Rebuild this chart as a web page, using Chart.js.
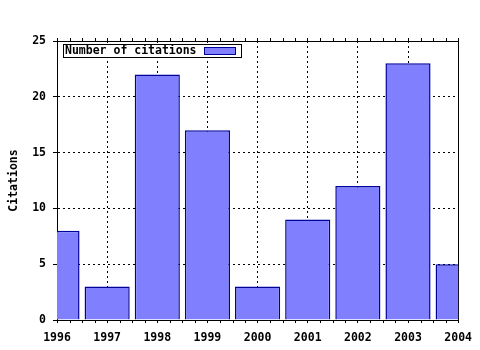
<!DOCTYPE html>
<html>
<head>
<meta charset="utf-8">
<script src="https://cdn.jsdelivr.net/npm/chart.js@4/dist/chart.umd.min.js"></script>
<style>
  html, body { margin: 0; padding: 0; background: #fff; }
  #wrap { width: 480px; height: 350px; }
</style>
</head>
<body>
<div id="wrap"><canvas id="c" width="480" height="350"></canvas></div>
<script>
const years = [1996, 1997, 1998, 1999, 2000, 2001, 2002, 2003, 2004];
const citations = [8, 3, 22, 17, 3, 9, 12, 23, 5];
const seriesLabel = 'Number of citations';
const yAxisTitle = 'Citations';
const yTicks = [0, 5, 10, 15, 20, 25];
const minorSteps = 4;

const FONT = { family: '"DejaVu Sans Mono", monospace', size: 11.5, weight: 'bold' };

function yearTicks(scale) { scale.ticks = years.map(v => ({ value: v })); }

const minorTicks = {
  id: 'minorTicks',
  afterDraw(chart) {
    const ctx = chart.ctx;
    const xs = chart.scales.x;
    const area = chart.chartArea;
    ctx.save();
    ctx.strokeStyle = '#000';
    ctx.lineWidth = 1;
    ctx.beginPath();
    for (let i = 0; i < years.length - 1; i++) {
      for (let k = 1; k < minorSteps; k++) {
        const v = years[i] + k / minorSteps;
        const px = Math.round(xs.getPixelForValue(v)) + 0.5;
        ctx.moveTo(px, area.bottom); ctx.lineTo(px, area.bottom + 3);
        ctx.moveTo(px, area.top); ctx.lineTo(px, area.top - 3);
      }
    }
    ctx.stroke();
    ctx.restore();
  }
};

const gnuLegend = {
  id: 'gnuLegend',
  afterDraw(chart) {
    const ctx = chart.ctx;
    const ds = chart.data.datasets[0];
    const area = chart.chartArea;
    const x0 = area.left + 6.5, y0 = area.top + 3.5, w = 178, h = 13;
    ctx.save();
    ctx.fillStyle = '#fff';
    ctx.fillRect(x0, y0, w, h);
    ctx.strokeStyle = '#000';
    ctx.lineWidth = 1;
    ctx.strokeRect(x0, y0, w, h);
    ctx.font = 'bold 11.5px "DejaVu Sans Mono", monospace';
    ctx.fillStyle = '#000';
    ctx.textBaseline = 'middle';
    ctx.textAlign = 'left';
    ctx.fillText(ds.label, x0 + 1.5, y0 + h / 2 + 0.5);
    ctx.fillStyle = ds.backgroundColor;
    ctx.fillRect(x0 + 141, y0 + 3, 31, 7);
    ctx.strokeStyle = ds.borderColor;
    ctx.strokeRect(x0 + 141, y0 + 3, 31, 7);
    ctx.restore();
  }
};

new Chart(document.getElementById('c'), {
  type: 'bar',
  data: {
    datasets: [{
      label: seriesLabel,
      data: years.map((y, i) => ({ x: y, y: citations[i] })),
      backgroundColor: '#8080ff',
      borderColor: '#00009a',
      borderWidth: 1.5,
      borderSkipped: 'start',
      categoryPercentage: 1.0,
      barPercentage: 0.9
    }]
  },
  options: {
    responsive: false,
    animation: false,
    events: [],
    layout: { padding: { left: 0, right: 0, top: 0, bottom: 0 } },
    plugins: { legend: { display: false }, tooltip: { enabled: false } },
    scales: {
      x: {
        type: 'linear', position: 'bottom',
        min: years[0], max: years[years.length - 1],
        offset: false,
        afterBuildTicks: yearTicks,
        afterFit(s) { s.height = 30; },
        ticks: {
          autoSkip: false, maxRotation: 0, padding: 8,
          color: '#000', font: FONT,
          callback: v => String(v)
        },
        grid: {
          offset: false,
          color: ctx => (ctx.index !== 0 && ctx.index !== years.length - 1) ? '#000' : 'rgba(0,0,0,0)',
          tickColor: '#000', tickLength: 3, lineWidth: 1
        },
        border: { display: true, color: '#000', width: 1, dash: [2, 3] }
      },
      x2: {
        type: 'linear', position: 'top',
        min: years[0], max: years[years.length - 1],
        offset: false,
        afterBuildTicks: yearTicks,
        afterFit(s) { s.height = 41; },
        ticks: { display: false },
        grid: { offset: false, drawOnChartArea: false, tickColor: '#000', tickLength: 3 },
        border: { display: true, color: '#000', width: 1 }
      },
      y: {
        type: 'linear', position: 'left',
        min: 0, max: 25,
        afterBuildTicks(s) { s.ticks = yTicks.map(v => ({ value: v })); },
        afterFit(s) { s.width = 57; },
        ticks: { padding: 7, color: '#000', font: FONT },
        title: { display: true, text: yAxisTitle, color: '#000', font: FONT, padding: { top: 7, bottom: 0 } },
        grid: {
          color: ctx => (ctx.index !== 0 && ctx.index !== yTicks.length - 1) ? '#000' : 'rgba(0,0,0,0)',
          tickColor: '#000', tickLength: 4, lineWidth: 1
        },
        border: { display: true, color: '#000', width: 1, dash: [2, 3] }
      },
      y2: {
        type: 'linear', position: 'right',
        min: 0, max: 25,
        afterBuildTicks(s) { s.ticks = yTicks.map(v => ({ value: v })); },
        afterFit(s) { s.width = 20; },
        ticks: { display: false },
        grid: { drawOnChartArea: false, drawTicks: false },
        border: { display: true, color: '#000', width: 1 }
      }
    }
  },
  plugins: [minorTicks, gnuLegend]
});
</script>
</body>
</html>
